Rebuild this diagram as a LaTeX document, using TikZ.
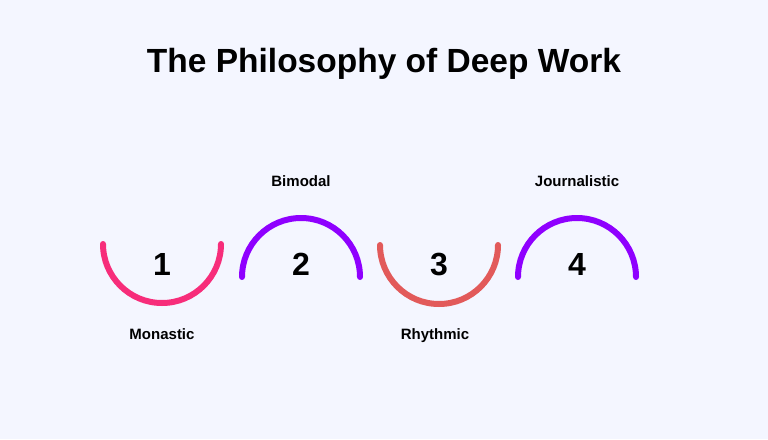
\documentclass[tikz,border=0pt]{standalone}
\usepackage{fontspec}
\setmainfont{Liberation Sans}
\usepackage{xcolor}
\usetikzlibrary{positioning}

\definecolor{bgpage}{RGB}{244,246,255}
\definecolor{arcpink}{RGB}{247,45,122}
\definecolor{arcviolet}{RGB}{143,0,255}
\definecolor{arccoral}{RGB}{226,90,90}

\begin{document}
\begin{tikzpicture}[
  x=1pt, y=1pt,
  every node/.style={align=center, inner sep=0pt, text=black},
  titletext/.style={font=\fontsize{33.5}{38}\selectfont\bfseries, anchor=base},
  numtext/.style  ={font=\fontsize{32}{36}\selectfont\bfseries, anchor=base},
  steptext/.style ={font=\fontsize{15}{18}\selectfont\bfseries, anchor=base}
]
\tikzset{halfarc/.style={line width=6pt, line cap=round}}
% Page: 768 x 439, y runs downwards as negative values
\useasboundingbox[fill=bgpage] (0,0) rectangle (768,-439);

% Title
\node[titletext] (title) at (384,-72) {The Philosophy of Deep Work};

% Numbers, one per column (spacing ~138)
\node[numtext] (n1) at (162,-275) {1};
\node[numtext] (n2) at (301,-275) {2};
\node[numtext] (n3) at (439,-275) {3};
\node[numtext] (n4) at (577,-275) {4};

% Labels: below for odd steps, above for even steps
\node[steptext] (monastic)     at (162,-339) {Monastic};
\node[steptext] (bimodal)      at (301,-186) {Bimodal};
\node[steptext] (rhythmic)     at (435,-339) {Rhythmic};
\node[steptext] (journalistic) at (577,-186) {Journalistic};

% Half arcs: bowls under 1 and 3, domes over 2 and 4
\draw[halfarc, draw=arcpink]   (103,-244) arc[start angle=180, end angle=360, radius=59];
\draw[halfarc, draw=arcviolet] (242,-277) arc[start angle=180, end angle=0,   radius=59];
\draw[halfarc, draw=arccoral]  (380,-245) arc[start angle=180, end angle=360, radius=59];
\draw[halfarc, draw=arcviolet] (518,-277) arc[start angle=180, end angle=0,   radius=59];
\end{tikzpicture}
\end{document}
